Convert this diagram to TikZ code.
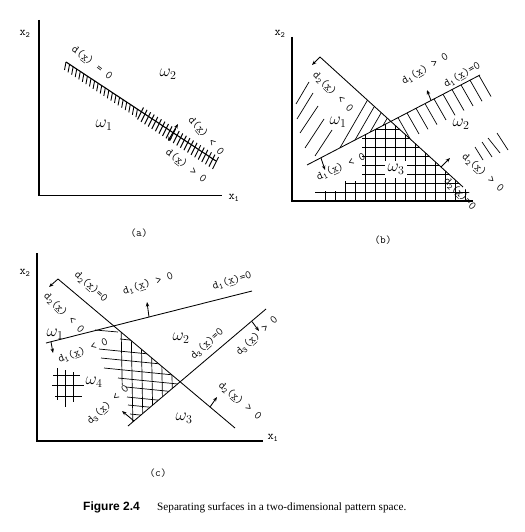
\documentclass[tikz,border=0pt]{standalone}
\usepackage{fontspec}
\setmainfont{Liberation Serif}
\newfontfamily\capsans{Liberation Sans}
\usetikzlibrary{arrows.meta,calc}
\newcommand{\dlab}[2]{d\textsubscript{#1}(\underline{x})#2}
\tikzset{
 ln/.style={line width=0.85pt},
 axl/.style={line width=1.6pt},
 ht/.style={line width=0.7pt},
 nr/.style={line width=0.85pt,-{Stealth[length=4.5pt,width=3.5pt]}},
 lab/.style={font=\ttfamily\fontsize{11.5}{11.5}\selectfont, inner sep=0pt},
 om/.style={font=\fontsize{16.5}{16.5}\selectfont, inner sep=0pt},
 axn/.style={font=\ttfamily\fontsize{12}{12}\selectfont, inner sep=0pt},
 sub/.style={font=\ttfamily\fontsize{11}{11}\selectfont, inner sep=0pt},
}
\begin{document}
\begin{tikzpicture}[x=1pt,y=-1pt]
\fill[white] (0,0) rectangle (524,532);
\useasboundingbox (0,0) rectangle (524,532);

% ================= (a) =================
\coordinate (aT) at (39,20);
\coordinate (aO) at (39,195.5);
\coordinate (aR) at (222,195.5);
\draw[axl] (aT) -- (aO) -- (aR);
\node[axn] (ax2) at (25,34) {x\textsubscript{2}};
\node[axn] (ax1) at (234,198) {x\textsubscript{1}};
\coordinate (aP) at (66,62);
\coordinate (aQ) at (216,161);
\draw[line width=1.1pt] (aP) -- (aQ);
\foreach \i in {0,...,42}{
  \pgfmathsetmacro\t{\i/42}
  \ifnum\i<21
    \draw[line width=0.9pt] ($(aP)!\t!(aQ)$) -- ++(-1.5,8);
  \else
    \draw[line width=0.9pt] ($(aP)!\t!(aQ)$) ++(2.5,-4) -- ++(-6,12);
  \fi
}
\coordinate (aA1) at (168,141);
\coordinate (aA2) at (178,124);
\draw[line width=1pt,{Stealth[length=4.5pt,width=3.5pt]}-{Stealth[length=4.5pt,width=3.5pt]}] (aA1) -- (aA2);
\node[lab,rotate=-37] (la1) at (92,63) {\dlab{}{ = 0}};
\node[om] (aw2) at (168,74) {$\omega_2$};
\node[om] (aw1) at (104,125) {$\omega_1$};
\node[lab,rotate=-48] (la2) at (206,136) {\dlab{}{ < 0}};
\node[lab,rotate=-37] (la3) at (186,166) {\dlab{}{ > 0}};
\node[sub] (capa) at (139,233) {(a)};

% ================= (b) =================
\coordinate (bT) at (292,37);
\coordinate (bO) at (292,201);
\coordinate (bR) at (473,201);
\draw[axl] (bT) -- (bO) -- (bR);
\node[axn] (bx2) at (280,34) {x\textsubscript{2}};
\coordinate (A) at (320,57);
\coordinate (B) at (463,187);
\coordinate (C) at (307,165);
\coordinate (D) at (480,75);
\coordinate (I) at (390.8,121.4);
% crosshatch omega3
\begin{scope}
\clip (315,200.5) -- (315,191) -- (345,191) -- (345,181) -- (362,181) -- (362,136.4) -- (I) -- (470,193.4) -- (470,200.5) -- cycle;
\foreach \yy in {129,138,147,156,165,174,183,192}{\draw[ht] (300,\yy) -- (480,\yy);}
\foreach \xx in {325,335,...,465}{\draw[ht] (\xx,110) -- (\xx,201);}
\end{scope}
% omega1 wedge strokes
\begin{scope}
\clip (C) -- (I) -- (A) -- cycle;
\foreach \xx/\yy in {340/147.8,355/140,370/132.2,383/125.5}{\draw[ht] (\xx,\yy) -- ++(30,-52);}
\end{scope}
% free strokes left
\draw[ht] (296,104) -- (309,82);
\draw[ht] (297,119) -- (313,93);
\draw[ht] (300,133) -- (318,106);
\draw[ht] (305,148) -- (324,119);
\draw[ht] (315,156) -- (332,130);
% omega2 strokes
\begin{scope}
\clip (I) -- (490,69.8) -- (530,69.8) -- (530,215) -- (481.2,203.5) -- cycle;
\foreach \xx in {398,407,...,479}{
  \pgfmathsetmacro\yy{165-0.5202*(\xx-307)}
  \draw[ht] (\xx,\yy) -- ++(12,21);
}
\end{scope}
\draw[ht] (475,147) -- (483,160);
\draw[ht] (482,142) -- (492,157);
\draw[ht] (488,138) -- (500,153);
\draw[ht] (497,133) -- (508,150);
\draw[ln] (A) -- (B);
\draw[ln] (C) -- (D);
\draw[nr] (A) -- (312,65);
\draw[nr] (321,158) -- (325,170);
\draw[nr] (431,100.5) -- (427,90);
\draw[nr] (441,167) -- (450,158);
\node[lab,rotate=-45] (lb1) at (333,92) {\dlab{2}{ < 0}};
\node[lab,rotate=31] (lb2) at (425,69) {\dlab{1}{ > 0}};
\node[lab,rotate=30] (lb3) at (462,75) {\dlab{1}{=0}};
\node[om] (bw2) at (461,124) {$\omega_2$};
\node[om] (bw1) at (338,122) {$\omega_1$};
\node[lab,rotate=24] (lb4) at (341,167) {\dlab{1}{ < 0}};
\node[om,fill=white,minimum width=22pt,minimum height=17pt] (bw3) at (396,169) {$\omega_3$};
\node[lab,rotate=-42] (lb5) at (483,173) {\dlab{2}{ > 0}};
\node[lab,rotate=-45] (lb6) at (460,194) {\dlab{2}{=0}};
\node[sub] (capb) at (383,240) {(b)};

% ================= (c) =================
\coordinate (cT) at (37,253);
\coordinate (cO) at (37,441);
\coordinate (cR) at (263,441);
\draw[axl] (cT) -- (cO) -- (cR);
\node[axn] (cx2) at (25,273) {x\textsubscript{2}};
\node[axn] (cx1) at (273,438) {x\textsubscript{1}};
\coordinate (E) at (58,279);
\coordinate (F) at (235,428);
\coordinate (G) at (46,343);
\coordinate (H) at (252,291);
\coordinate (J) at (128,426);
\coordinate (K) at (266,309);
\coordinate (X23) at (180.1,381.8);
% crosshatch region
\begin{scope}
\clip (80,331) -- (120,331.2) -- (X23) -- (130,424.3) -- (80,424.3) -- cycle;
\foreach \yy/\xs in {339/120,349/99,358/101,368/104,378/118,387/126,397/127,405/128,414/130}{
  \draw[ht] (\xs,\yy) -- (200,{\yy+0.1*(200-\xs)});}
\end{scope}
\begin{scope}
\clip (120,331.2) -- (X23) -- (130,424.3) -- (130,385) -- (120,385) -- cycle;
\foreach \xx in {121,131,...,181}{\draw[ht] (\xx,320) -- (\xx+2,430);}
\end{scope}
\draw[ht] (95,330) -- (118,332);
% small grid omega4
\draw[ht] (57,368) -- (57,400);
\draw[ht] (65,370) -- (65,407);
\draw[ht] (73,372) -- (73,402);
\draw[ht] (53,375) -- (80,375);
\draw[ht] (52,385) -- (84,385);
\draw[ht] (55,396) -- (82,396);
\draw[ln] (E) -- (F);
\draw[ln] (G) -- (H);
\draw[ln] (J) -- (K);
\draw[nr] (E) -- (49,287);
\draw[nr] (51,342) -- (53,353);
\draw[nr] (149,317) -- (147,302);
\draw[nr] (134,421) -- (122,411);
\draw[nr] (252,321.6) -- (259,331);
\draw[nr] (210,407) -- (217,397);
\node[lab,rotate=-42] (lc1) at (91,287) {\dlab{2}{=0}};
\node[lab,rotate=-45] (lc2) at (64,313) {\dlab{2}{ < 0}};
\node[lab,rotate=18] (lc3) at (148,284) {\dlab{1}{ > 0}};
\node[lab,rotate=17] (lc4) at (232,281) {\dlab{1}{=0}};
\node[om] (cw1) at (55,334) {$\omega_1$};
\node[lab,rotate=20] (lc5) at (83,351) {\dlab{1}{ < 0}};
\node[om] (cw2) at (181,338) {$\omega_2$};
\node[lab,rotate=42] (lc6) at (207,344) {\dlab{3}{=0}};
\node[lab,rotate=42] (lc7) at (257,336) {\dlab{3}{ > 0}};
\node[om] (cw4) at (94,382) {$\omega_4$};
\node[lab,rotate=42] (lc8) at (108,405) {\dlab{3}{ < 0}};
\node[om] (cw3) at (184,418) {$\omega_3$};
\node[lab,rotate=-40] (lc9) at (240,401) {\dlab{2}{ > 0}};
\node[sub] (capc) at (158,473) {(c)};

% caption
\node[anchor=base west,inner sep=0pt,font=\capsans\bfseries\fontsize{12}{13}\selectfont] (fig) at (83,510) {Figure 2.4};
\node[anchor=base west,inner sep=0pt,font=\fontsize{11.2}{12}\selectfont] (capt) at (157,510) {Separating surfaces in a two-dimensional pattern space.};
\end{tikzpicture}
\end{document}
